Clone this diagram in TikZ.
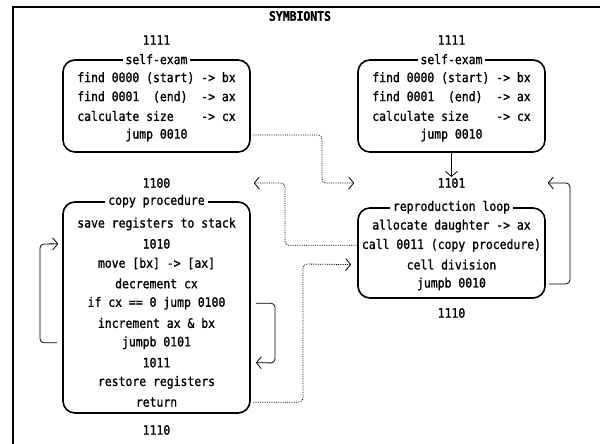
\documentclass[tikz,border=0pt]{standalone}
\usepackage{fontspec}
\newfontfamily\dotfont[FakeStretch=0.88, FakeBold=1.2]{DejaVu Sans Mono}
\usetikzlibrary{positioning}
\usetikzlibrary{arrows.meta}

\tikzset{
  prog/.style={draw, line width=1.6pt, rounded corners=12pt, minimum width=187pt, inner sep=0pt},
  ttl/.style={fill=white, inner xsep=3pt, inner ysep=1pt},
  ln/.style={inner sep=0pt},
  addr/.style={inner sep=1pt},
  flow/.style={line width=0.8pt, rounded corners=4pt, -{Straight Barb[length=5pt,width=12pt]}},
  jmp/.style={flow, densely dotted},
}

\begin{document}
\begin{tikzpicture}[x=1pt, y=-1pt, every node/.style={font=\dotfont\fontsize{13}{13}\selectfont}]
  \useasboundingbox (0,0) rectangle (600,444);

  % Frame and heading
  \draw[line width=2pt] (600,7) -- (13,7) -- (13,444);
  \node (head) at (300,16) {\bfseries SYMBIONTS};

  % Boxes
  \node[prog, minimum height=92pt] (selfL) at (156.5,106) {};
  \node[prog, minimum height=92pt] (selfR) at (451.5,106) {};
  \node[prog, minimum height=211pt] (copyP) at (156.5,307.5) {};
  \node[prog, minimum height=90pt] (repro) at (451.5,253) {};

  % Box titles
  \node[ttl] (selfLT) at (selfL.north) {self-exam};
  \node[ttl] (selfRT) at (selfR.north) {self-exam};
  \node[ttl] (copyPT) at (copyP.north) {copy procedure};
  \node[ttl] (reproT) at (repro.north) {reproduction loop};

  % Templates
  \node[addr] (a1111L) at (156.5,40) {1111};
  \node[addr] (a1111R) at (451.5,40) {1111};
  \node[addr] (a1100) at (156.5,183) {1100};
  \node[addr] (a1101) at (451.5,183) {1101};
  \node[addr] (a1110L) at (156.5,430) {1110};
  \node[addr] (a1110R) at (451.5,313) {1110};

  % Code lines
  \foreach \t [count=\i] in {{find 0000 (start) -> bx}, {find 0001~~(end)~~-> ax}, {calculate size~~~~-> cx}, {jump 0010}}{
    \node[ln] (sl\i) at (156.5, 59+19*\i) {\t};
    \node[ln] (sr\i) at (451.5, 59+19*\i) {\t};
  }
  \foreach \t [count=\i] in {{save registers to stack}, {1010}, {move [bx] -> [ax]}, {decrement cx}, {if cx == 0 jump 0100}, {increment ax \& bx}, {jumpb 0101}, {1011}, {restore registers}, {return}}
    \node[ln] (cp\i) at (156.5, 204.2+19.8*\i) {\t};
  \foreach \t [count=\i] in {{allocate daughter -> ax}, {call 0011 (copy procedure)}, {cell division}, {jumpb 0010}}
    \node[ln] (rp\i) at (451.5, 206.7+19.3*\i) {\t};

  % Jumps
  \draw[flow] (selfR.south) -- (a1101.north);
  \draw[jmp] ([xshift=2pt]selfL.east |- sl4) -| (322,183) -- ([xshift=-3pt]repro.west |- a1101);
  \draw[jmp] (repro.west |- rp2) -| (285,183) -- ([xshift=3pt]copyP.east |- a1100);
  \draw[jmp] ([xshift=2pt]copyP.east |- cp10) -| (303,264) -- ([xshift=-6pt]repro.west |- rp3);
  \draw[flow] ([xshift=3pt]repro.east |- rp4) -| (570,183) -- ([xshift=2pt]repro.east |- a1101);
  \draw[flow] ([xshift=-5pt]copyP.west |- cp7) -| (40,244) -- ([xshift=-4pt]copyP.west |- cp2);
  \draw[flow] ([xshift=5pt]copyP.east |- cp5) -| (275,363) -- ([xshift=5pt]copyP.east |- cp8);
\end{tikzpicture}
\end{document}
